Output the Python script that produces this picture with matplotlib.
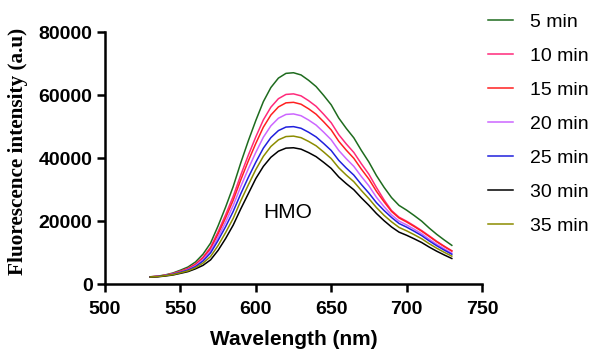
import numpy as np
import matplotlib.pyplot as plt

# wavelength grid (nm)
wavelength = np.arange(530, 731, 5)

# fluorescence intensity (a.u), one list per time point
min5 = [2300, 2500, 2900, 3500, 4400, 5400, 7000, 9500, 13000, 18500, 24500, 31000, 38500,
        45500, 52000, 58000, 62500, 65500, 67000, 67200, 66500, 64800, 62800, 60000, 57000,
        52800, 49500, 46500, 42500, 38800, 34500, 30800, 27500, 25000, 23500, 21800, 20000,
        17800, 15800, 14000, 12300]
min10 = [2280, 2450, 2810, 3330, 4090, 4970, 6370, 8550, 11700, 16650, 22050, 27880, 34630,
         40930, 46800, 52200, 56250, 58950, 60300, 60480, 59850, 58320, 56520, 54000, 51300,
         47520, 44550, 41850, 38250, 34920, 30710, 26800, 23380, 21250, 19980, 18530, 17000,
         15310, 13590, 12040, 10580]
min15 = [2280, 2450, 2780, 3260, 4000, 4810, 6160, 8260, 11180, 15910, 21070, 26640, 33090,
         39110, 44720, 49880, 53750, 56330, 57620, 57790, 57190, 55730, 54010, 51600, 49020,
         45410, 42570, 39990, 36550, 33370, 29500, 26180, 23100, 21000, 19740, 18310, 16800,
         15130, 13430, 11900, 10460]
min20 = [2250, 2400, 2730, 3150, 3830, 4590, 5810, 7790, 10530, 14890, 19720, 24940, 30980,
         36610, 41860, 46690, 50310, 52730, 53940, 54100, 53530, 52160, 50550, 48300, 45890,
         42500, 39850, 37430, 34210, 31230, 27600, 24640, 22000, 20000, 18800, 17440, 16000,
         14240, 12640, 11200, 9840]
min25 = [2250, 2400, 2700, 3080, 3740, 4430, 5530, 7310, 9880, 13870, 18250, 23080, 28670,
         33880, 38740, 43210, 46560, 48800, 49920, 50060, 49540, 48280, 46790, 44700, 42470,
         39340, 36880, 34640, 31660, 28910, 25880, 23410, 21180, 19250, 18100, 16790, 15400,
         13710, 12170, 10780, 9470]
min30 = [2210, 2300, 2550, 2870, 3390, 3940, 4830, 5940, 7680, 10710, 14490, 18730, 23870,
         28700, 33540, 37410, 40310, 42250, 43220, 43340, 42890, 41800, 40510, 38700, 36770,
         34060, 31930, 29990, 27410, 25030, 22430, 20170, 18150, 16500, 15510, 14390, 13200,
         11750, 10430, 9240, 8120]
min35 = [2230, 2350, 2640, 2980, 3560, 4160, 5180, 6650, 8750, 12250, 16380, 20870, 26420,
         31490, 36400, 40600, 43750, 45850, 46900, 47040, 46550, 45360, 43960, 42000, 39900,
         36960, 34650, 32550, 29750, 27160, 24320, 21870, 19800, 18000, 16920, 15700, 14400,
         12820, 11380, 10080, 8860]

series = [min5, min10, min15, min20, min25, min30, min35]
labels = ["5 min", "10 min", "15 min", "20 min", "25 min", "30 min", "35 min"]
colors = ["#1E6B1E", "#FF2A7A", "#FF2020", "#CC66FF", "#2020DD", "#000000", "#8C8C00"]

fig = plt.figure(figsize=(5.94, 3.54), dpi=100)
ax = fig.add_axes([0.1768, 0.1977, 0.6346, 0.7105])

for y, lab, c in zip(series, labels, colors):
    ax.plot(wavelength, y, color=c, lw=1.1, label=lab)

ax.set_xlim(500, 750)
ax.set_ylim(0, 80000)
ax.set_xticks([500, 550, 600, 650, 700, 750])
ax.set_yticks([0, 20000, 40000, 60000, 80000])

for s in ["top", "right"]:
    ax.spines[s].set_visible(False)
for s in ["left", "bottom"]:
    ax.spines[s].set_linewidth(1.8)

ax.tick_params(direction="out", length=6, width=1.8)
ax.tick_params(axis="x", pad=6)
ax.tick_params(axis="y", pad=3)
for t in ax.get_xticklabels() + ax.get_yticklabels():
    t.set_fontfamily("Liberation Sans")
    t.set_fontweight("bold")
    t.set_fontsize(14)

ax.set_xlabel("Wavelength (nm)", fontfamily="Liberation Sans", fontweight="bold", fontsize=15, labelpad=9)
ax.set_ylabel("Fluorescence intensity (a.u)", fontfamily="Liberation Serif", fontweight="bold",
              fontsize=15.3)
ax.yaxis.set_label_coords(-0.204, 0.529)

ax.text(621, 22600, "HMO", fontfamily="Liberation Sans", fontsize=15, ha="center", va="center")

fig.legend(loc="upper left", bbox_to_anchor=(0.8215, 0.962), frameon=False,
           prop={"family": "Liberation Sans", "size": 14}, handlelength=1.3,
           handletextpad=0.85, labelspacing=0.84, borderpad=0, borderaxespad=0)

fig.savefig("out.png", dpi=100)
